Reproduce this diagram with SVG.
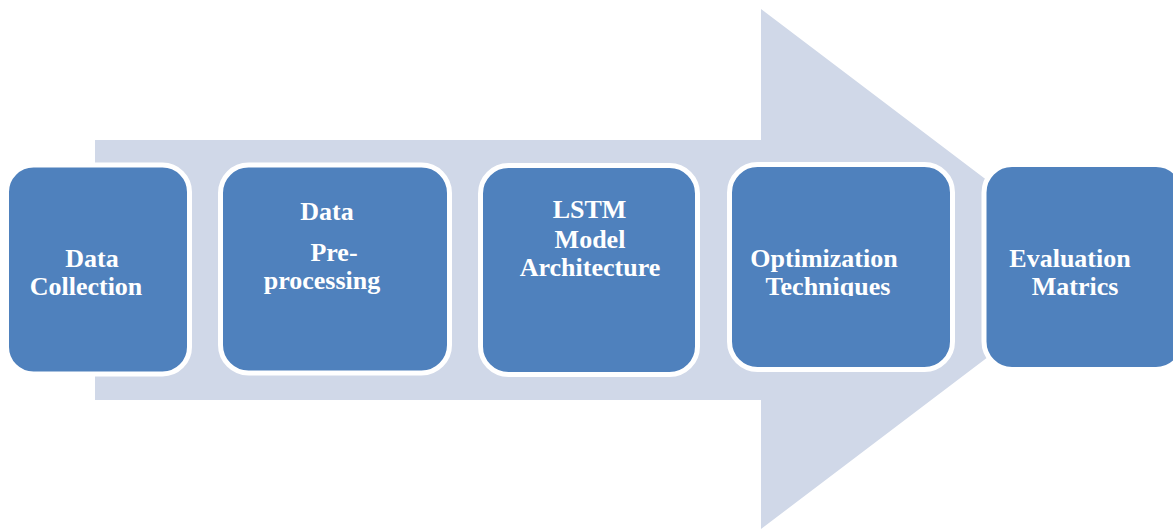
<svg xmlns="http://www.w3.org/2000/svg" width="1173" height="529" viewBox="0 0 1173 529">
<style>
.box{fill:#4F81BD;stroke:#FFFFFF;stroke-width:5}
.lbl{font-family:"Liberation Serif","Times New Roman",serif;font-weight:bold;font-size:26px;fill:#FFFFFF;text-anchor:middle}
.arrow{fill:#D0D8E8}
</style>
<defs>
<clipPath id="clipTech"><rect x="727" y="160" width="230" height="136"/></clipPath>
</defs>
<rect width="1173" height="529" fill="#FFFFFF"/>
<g id="connectors">
<polygon class="arrow" points="95,140 761,140 761,9 1104,269 761,529 761,400 95,400"/>
</g>
<g id="node-data-collection">
<rect class="box" x="6.5" y="165" width="183" height="209" rx="27"/>
<text class="lbl" x="92" y="267">Data</text>
<text class="lbl" x="86" y="295">Collection</text>
</g>
<g id="node-preprocessing">
<rect class="box" x="220.5" y="165" width="229" height="208" rx="28"/>
<text class="lbl" x="327" y="220">Data</text>
<text class="lbl" x="334" y="261">Pre-</text>
<text class="lbl" x="322" y="289">processing</text>
</g>
<g id="node-lstm">
<rect class="box" x="480.5" y="165.5" width="217" height="209" rx="28"/>
<text class="lbl" x="589.5" y="218">LSTM</text>
<text class="lbl" x="590" y="248">Model</text>
<text class="lbl" x="590" y="276">Architecture</text>
</g>
<g id="node-optimization">
<rect class="box" x="729.5" y="164.5" width="223" height="205" rx="28"/>
<text class="lbl" x="824" y="267">Optimization</text>
<text class="lbl" x="828" y="295" clip-path="url(#clipTech)">Techniques</text>
</g>
<g id="node-evaluation">
<rect class="box" x="984" y="164.5" width="200" height="205" rx="28"/>
<text class="lbl" x="1070" y="267">Evaluation</text>
<text class="lbl" x="1075" y="295">Matrics</text>
</g>
</svg>
